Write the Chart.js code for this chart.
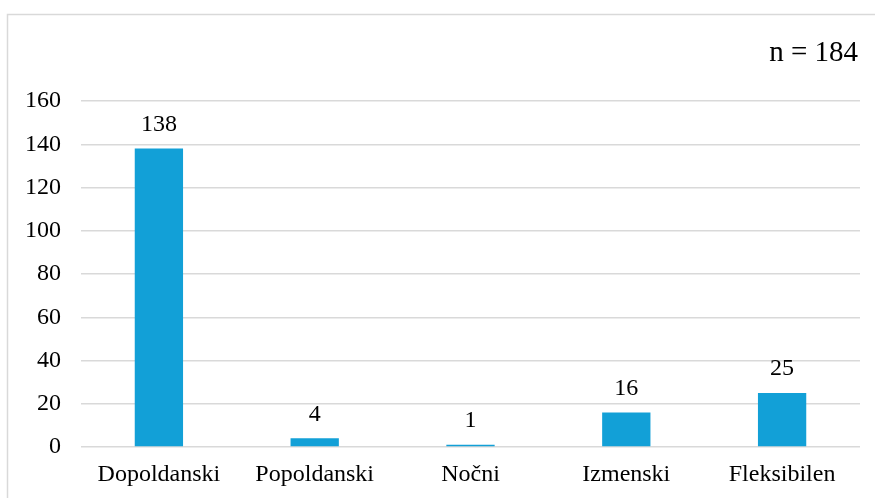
<!DOCTYPE html>
<html>
<head>
<meta charset="utf-8">
<script src="https://cdn.jsdelivr.net/npm/chart.js@4/dist/chart.umd.min.js"></script>
<style>
  html, body { margin: 0; padding: 0; background: #fff; }
  #wrap { position: relative; width: 875px; height: 498px; }
</style>
</head>
<body>
<div id="wrap"><canvas id="chart" width="875" height="498"></canvas></div>
<script>
// ===================== Data =====================
const categories = ['Dopoldanski', 'Popoldanski', 'Nočni', 'Izmenski', 'Fleksibilen'];
const counts = [138, 4, 1, 16, 25];
const sampleNote = 'n = 184';
const yTicks = [0, 20, 40, 60, 80, 100, 120, 140, 160];

const FONT = "'Liberation Serif', 'Times New Roman', serif";
const BAR_COLOR = '#12A0D7';
const GRID_COLOR = '#D9D9D9';

// Outer frame + "n = ..." note
const framePlugin = {
  id: 'frame',
  beforeDraw(chart) {
    const ctx = chart.ctx;
    ctx.save();
    ctx.fillStyle = '#fff';
    ctx.fillRect(0, 0, chart.width, chart.height);
    ctx.strokeStyle = GRID_COLOR;
    ctx.lineWidth = 1.5;
    ctx.beginPath();
    ctx.moveTo(7.5, chart.height);
    ctx.lineTo(7.5, 14.5);
    ctx.lineTo(chart.width, 14.5);
    ctx.stroke();
    ctx.restore();
  },
  afterDraw(chart) {
    const ctx = chart.ctx;
    ctx.save();
    ctx.fillStyle = '#000';
    ctx.font = `29px ${FONT}`;
    ctx.textAlign = 'right';
    ctx.textBaseline = 'middle';
    ctx.fillText(sampleNote, 858, 53);
    ctx.restore();
  }
};

// Value labels above each bar
const valueLabels = {
  id: 'valueLabels',
  afterDatasetsDraw(chart) {
    const ctx = chart.ctx;
    const meta = chart.getDatasetMeta(0);
    ctx.save();
    ctx.fillStyle = '#000';
    ctx.font = `24px ${FONT}`;
    ctx.textAlign = 'center';
    ctx.textBaseline = 'middle';
    meta.data.forEach((bar, i) => {
      ctx.fillText(String(counts[i]), bar.x, bar.y - 24);
    });
    ctx.restore();
  }
};

new Chart(document.getElementById('chart'), {
  type: 'bar',
  data: {
    labels: categories,
    datasets: [{
      data: counts,
      backgroundColor: BAR_COLOR,
      borderWidth: 0,
      categoryPercentage: 1,
      barPercentage: 0.31,
    }],
  },
  options: {
    responsive: false,
    animation: false,
    layout: { padding: { top: 101, right: 15, left: 0, bottom: 0 } },
    plugins: { legend: { display: false }, tooltip: { enabled: false } },
    scales: {
      x: {
        grid: { display: false, drawTicks: false },
        border: { display: false },
        ticks: { color: '#000', font: { family: FONT, size: 24 }, padding: 13, maxRotation: 0 },
        afterFit: s => { s.height = 51; },
      },
      y: {
        min: 0,
        max: 160,
        afterBuildTicks: s => { s.ticks = yTicks.map(v => ({ value: v })); },
        grid: { color: GRID_COLOR, lineWidth: 1.5, drawTicks: false },
        border: { display: false },
        ticks: { color: '#000', font: { family: FONT, size: 24 }, padding: 20 },
        afterFit: s => { s.width = 81; },
      },
    },
  },
  plugins: [framePlugin, valueLabels],
});
</script>
</body>
</html>
